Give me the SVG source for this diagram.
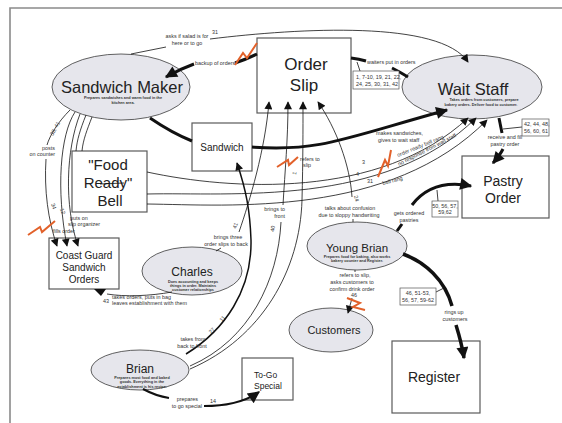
<svg xmlns="http://www.w3.org/2000/svg" width="562" height="423" viewBox="0 0 562 423">
<style>
.frame{fill:none;stroke:#8a8a8a;stroke-width:1.6}
.el{fill:#e6e6ec;stroke:#3a3a3a;stroke-width:0.8}
.bx{fill:#fff;stroke:#5a5a5a;stroke-width:1.2}
.nb{fill:#fff;stroke:#555;stroke-width:0.7}
.t{font-family:"Liberation Sans",Arial,sans-serif;fill:#222;text-anchor:middle}
.sub{font-family:"Liberation Sans",Arial,sans-serif;font-size:3.8px;fill:#333;text-anchor:middle;font-weight:bold}
.lb{font-family:"Liberation Sans",Arial,sans-serif;font-size:5.4px;fill:#333}
.m{text-anchor:middle}
.e{text-anchor:end}
.s{text-anchor:start}
.c{fill:none;stroke:#111;stroke-width:0.8}
.d{fill:none;stroke:#111;stroke-width:1.5}
.k{fill:none;stroke:#111;stroke-width:3}
.z{fill:none;stroke:#e2612a;stroke-width:2}
</style>
<defs>
<marker id="a" viewBox="0 0 10 10" refX="9" refY="5" markerWidth="9" markerHeight="8" markerUnits="userSpaceOnUse" orient="auto"><path d="M0,0 L10,5 L0,10 z" fill="#111"/></marker>
<marker id="A" viewBox="0 0 10 10" refX="9" refY="5" markerWidth="15" markerHeight="12" markerUnits="userSpaceOnUse" orient="auto"><path d="M0,0 L10,5 L0,10 z" fill="#111"/></marker>
</defs>
<rect width="562" height="423" fill="#fff"/>
<path class="frame" d="M10,423 L10,8 L562,8"/>

<g id="sandwich-maker">
<ellipse class="el" cx="121" cy="87" rx="69" ry="33"/>
<text class="t" x="122" y="93" font-size="16.5">Sandwich Maker</text>
<text class="sub" x="123" y="99">Prepares sandwiches and warm food in the</text>
<text class="sub" x="123" y="104">kitchen area.</text>
</g>
<g id="order-slip">
<rect class="bx" x="257" y="38" width="94" height="75"/>
<text class="t" x="306" y="70" font-size="17">Order</text>
<text class="t" x="304" y="91" font-size="17">Slip</text>
</g>
<g id="wait-staff">
<ellipse class="el" cx="472" cy="87" rx="70" ry="32"/>
<text class="t" x="473" y="95" font-size="16.5">Wait Staff</text>
<text class="sub" x="484" y="101">Takes orders from customers, prepare</text>
<text class="sub" x="481" y="106">bakery orders. Deliver food to customer.</text>
</g>
<g id="sandwich">
<rect class="bx" x="192" y="123" width="60" height="48"/>
<text class="t" x="222" y="151" font-size="10">Sandwich</text>
</g>
<g id="food-ready-bell">
<rect class="bx" x="72" y="151" width="75" height="61"/>
<text class="t" x="108" y="170" font-size="15">"Food</text>
<text class="t" x="108" y="188" font-size="15">Ready"</text>
<text class="t" x="110" y="206" font-size="15">Bell</text>
</g>
<g id="coast-guard">
<rect class="bx" x="49" y="238" width="70" height="51"/>
<text class="t" x="84" y="259" font-size="10">Coast Guard</text>
<text class="t" x="84" y="271" font-size="10">Sandwich</text>
<text class="t" x="84" y="283" font-size="10">Orders</text>
</g>
<g id="charles">
<ellipse class="el" cx="192" cy="271" rx="50" ry="24"/>
<text class="t" x="192" y="276" font-size="12">Charles</text>
<text class="sub" x="193" y="282.5">Does accounting and keeps</text>
<text class="sub" x="193" y="286.5">things in order. Maintains</text>
<text class="sub" x="193" y="290.5">customer relationships</text>
</g>
<g id="brian">
<ellipse class="el" cx="140" cy="370" rx="49" ry="20"/>
<text class="t" x="140" y="372.5" font-size="12">Brian</text>
<text class="sub" x="142" y="379">Prepares most food and baked</text>
<text class="sub" x="142" y="383">goods. Everything in the</text>
<text class="sub" x="142" y="387.5">establishment is his recipe.</text>
</g>
<g id="to-go-special">
<rect class="bx" x="242" y="358" width="51" height="42"/>
<text class="t s" x="254" y="378" font-size="8.5">To-Go</text>
<text class="t s" x="254" y="389" font-size="8.5">Special</text>
</g>
<g id="customers">
<ellipse class="el" cx="331" cy="330" rx="42" ry="22"/>
<text class="t" x="334" y="334" font-size="11">Customers</text>
</g>
<g id="young-brian">
<ellipse class="el" cx="357" cy="246" rx="50" ry="24"/>
<text class="t" x="357" y="251.5" font-size="11.5">Young Brian</text>
<text class="sub" x="357" y="257.5">Prepares food for baking, also works</text>
<text class="sub" x="357" y="261.5">bakery counter and Register.</text>
</g>
<g id="pastry-order">
<rect class="bx" x="462" y="156" width="87" height="62"/>
<text class="t" x="503" y="186" font-size="14">Pastry</text>
<text class="t" x="503" y="203" font-size="14">Order</text>
</g>
<g id="register">
<rect class="bx" x="392" y="341" width="88" height="72"/>
<text class="t" x="434" y="382" font-size="14">Register</text>
</g>

<g id="connectors">
<!-- asks if salad -->
<path class="c" d="M131,54 L166,47"/>
<path class="c" d="M210,39 C300,28 440,20 468,62" marker-end="url(#a)"/>
<text class="lb m" x="187" y="38">asks if salad is for</text>
<text class="lb m" x="187" y="44.5">here or to go</text>
<text class="lb" x="212" y="34">31</text>
<!-- backup of orders -->
<path class="k" d="M194,64 Q180,69 166,77" marker-end="url(#A)"/>
<path class="k" d="M235,63 Q247,59 257,54"/>
<text class="lb" x="195" y="65">backup of orders</text>
<polyline class="z" points="235,65 243,53 247,58 257,43"/>
<!-- waiters put in orders -->
<path class="k" d="M351,58 Q359,59 366,61"/>
<path class="k" d="M392,68 Q400,72 408,77"/>
<text class="lb" x="367" y="64">waiters put in orders</text>
<path class="c" d="M357,62 L360,71"/>
<rect class="nb" x="353" y="71" width="46" height="18"/>
<text class="lb" x="356" y="79" font-size="4.8">1, 7-10, 19, 21, 22,</text>
<text class="lb" x="356" y="86" font-size="4.8">24, 25, 30, 31, 42</text>
<!-- sandwich maker to sandwich -->
<path class="k" d="M150,118 Q172,133 192,141"/>
<!-- sandwich to wait staff -->
<path class="k" d="M252,147 C320,152 345,138 447,110" marker-end="url(#A)"/>
<text class="lb" x="376" y="135">makes sandwiches,</text>
<text class="lb" x="378" y="141.5">gives to wait staff</text>
<!-- bell to wait staff -->
<path class="c" d="M147,172 C230,190 380,200 468,118" marker-end="url(#a)"/>
<path class="c" d="M147,194 C230,192 385,208 476,118" marker-end="url(#a)"/>
<path class="c" d="M147,204 C230,205 390,218 487,120" marker-end="url(#a)"/>
<path class="c" d="M100,184 L124,183"/>
<text class="lb" x="362" y="164">3</text>
<text class="lb" x="356" y="176">4</text>
<text class="lb" x="367" y="183">31</text>
<text class="lb" transform="translate(398,157) rotate(-22)">order ready bell rang</text>
<text class="lb" transform="translate(399,166) rotate(-27)">no response from wait staff</text>
<text class="lb" transform="translate(383,185) rotate(-15)">bell rang</text>
<polyline class="z" points="378,177 385,160 388,166 391,150"/>
<!-- sandwich maker to coast guard / bell -->
<path class="c" d="M70,110 C58,122 50,135 47,145"/>
<path class="c" d="M46,159 C44,190 48,220 57,246" marker-end="url(#a)"/>
<path class="c" d="M75,112 C60,135 56,190 67,246" marker-end="url(#a)"/>
<path class="c" d="M80,114 C66,150 64,205 78,246" marker-end="url(#a)"/>
<path class="c" d="M86,115 C80,130 77,140 76,151"/>
<path class="c" d="M92,117 C87,130 83,140 82,151"/>
<text class="lb" transform="translate(53,136) rotate(-62)">38, 41</text>
<text class="lb e" x="55" y="150">posts</text>
<text class="lb e" x="55" y="156">on counter</text>
<text class="lb" transform="translate(51,204) rotate(72)">34</text>
<text class="lb" transform="translate(60,209) rotate(72)">12</text>
<text class="lb" x="70" y="220">puts on</text>
<text class="lb" x="68" y="226">slip organizer</text>
<text class="lb" x="53" y="233">fills order</text>
<polyline class="z" points="28,235 40,227 42,232 55,221"/>
<!-- charles to order slip -->
<path class="c" d="M239,232 C250,200 265,150 269,102" marker-end="url(#a)"/>
<path class="c" d="M221,248 L216,251"/>
<text class="lb m" x="228" y="239">brings three</text>
<text class="lb m" x="226" y="245.5">order slips to back</text>
<text class="lb" transform="translate(236,229) rotate(-70)">41</text>
<!-- brian to order slip (brings to front) -->
<path class="c" d="M283,205 C285,170 288,140 288,102" marker-end="url(#a)"/>
<path class="c" d="M190,366 C250,340 278,280 281,222"/>
<text class="lb e" x="285" y="211">brings to</text>
<text class="lb e" x="285" y="218">front</text>
<text class="lb" transform="translate(274,232) rotate(-80)">40</text>
<!-- brian to order slip (refers to slip) -->
<path class="c" d="M190,369 C262,338 300,270 302,200 C303,160 303,130 303,102" marker-end="url(#a)"/>
<text class="lb" x="300" y="161">refers to</text>
<text class="lb" x="303" y="167">slip</text>
<text class="lb" transform="translate(296,175) rotate(-80)">1</text>
<polyline class="z" points="277,167 288,160 289,165 298,157"/>
<text class="lb" transform="translate(222,322) rotate(-50)">11</text>
<text class="lb" transform="translate(211,334) rotate(-45)">27</text>
<!-- brian to sandwich -->
<path class="d" d="M186,354 C225,330 252,290 251,240 C250,210 246,190 237,163" marker-end="url(#a)"/>
<text class="lb m" x="193" y="341">takes from</text>
<text class="lb m" x="192" y="347.5">back to front</text>
<!-- young brian to order slip -->
<path class="c" d="M352,197 C350,165 336,128 318,102" marker-end="url(#a)"/>
<path class="c" d="M353,219 L353,222"/>
<text class="lb" transform="translate(354,196) rotate(75)">24</text>
<text class="lb m" x="350" y="210">talks about confusion</text>
<text class="lb m" x="349" y="216.5">due to sloppy handwriting</text>
<!-- charles to coast guard -->
<path class="c" d="M172,292 C150,296 125,297 107,294"/>
<polygon points="94,289 106,289 101,296" fill="#111"/>
<text class="lb" x="112" y="299">takes orders, puts in bag</text>
<text class="lb" x="112" y="305">leaves establishment with them</text>
<text class="lb" x="103" y="303" font-size="4.8">43</text>
<!-- brian to to-go special -->
<path class="d" d="M143,389 Q156,396 169,398" style="stroke-width:2"/>
<path class="d" d="M204,406 C228,406 245,402 259,392" marker-end="url(#A)" style="stroke-width:2"/>
<text class="lb e" x="198" y="401">prepares</text>
<text class="lb e" x="202" y="407.5">to go special</text>
<text class="lb" x="210" y="403" font-size="4.8">14</text>
<!-- wait staff to pastry -->
<path class="k" d="M499,118 L502,133"/>
<path class="k" d="M503,149 Q500,155 493,163" marker-end="url(#A)"/>
<text class="lb m" x="505" y="139">receive and fill</text>
<text class="lb m" x="505" y="146">pastry order</text>
<path class="c" d="M522,127 L503,129"/>
<rect class="nb" x="522" y="119" width="27" height="17"/>
<text class="lb" x="524" y="126" font-size="4.8">42, 44, 48,</text>
<text class="lb" x="524" y="133" font-size="4.8">56, 60, 61</text>
<!-- young brian to pastry -->
<path class="k" d="M397,231 L402,224"/>
<path class="k" d="M412,205 C422,192 440,180 471,186" marker-end="url(#A)"/>
<text class="lb m" x="409" y="215">gets ordered</text>
<text class="lb m" x="409" y="222">pastries</text>
<path class="c" d="M438,201 L437,190"/>
<rect class="nb" x="432" y="201" width="26" height="16"/>
<text class="lb m" x="445" y="207.5" font-size="4.8">50, 56, 57,</text>
<text class="lb m" x="445" y="214" font-size="4.8">59,62</text>
<!-- young brian to register -->
<path class="k" d="M403,254 C425,262 445,280 452,306" style="stroke-width:3.5"/>
<path class="k" d="M456,325 C460,338 462,345 464,358" marker-end="url(#A)" style="stroke-width:3.5"/>
<text class="lb m" x="454" y="314">rings up</text>
<text class="lb m" x="455" y="321">customers</text>
<path class="c" d="M436,292 L444,288"/>
<rect class="nb" x="400" y="288" width="36" height="17"/>
<text class="lb m" x="418" y="295" font-size="4.8">46, 51-53,</text>
<text class="lb m" x="418" y="302" font-size="4.8">56, 57, 59-62</text>
<!-- young brian to customers -->
<path class="c" d="M355,270 L355,272"/>
<text class="lb m" x="355" y="277">refers to slip,</text>
<text class="lb m" x="352" y="284">asks customers to</text>
<text class="lb m" x="352" y="291">confirm drink order</text>
<text class="lb" x="351" y="297" font-size="4.8">46</text>
<path class="c" d="M352,298 L348,313" marker-end="url(#a)"/>
<polyline class="z" points="347,298 360,303 353,307 365,310"/>
</g>
</svg>
